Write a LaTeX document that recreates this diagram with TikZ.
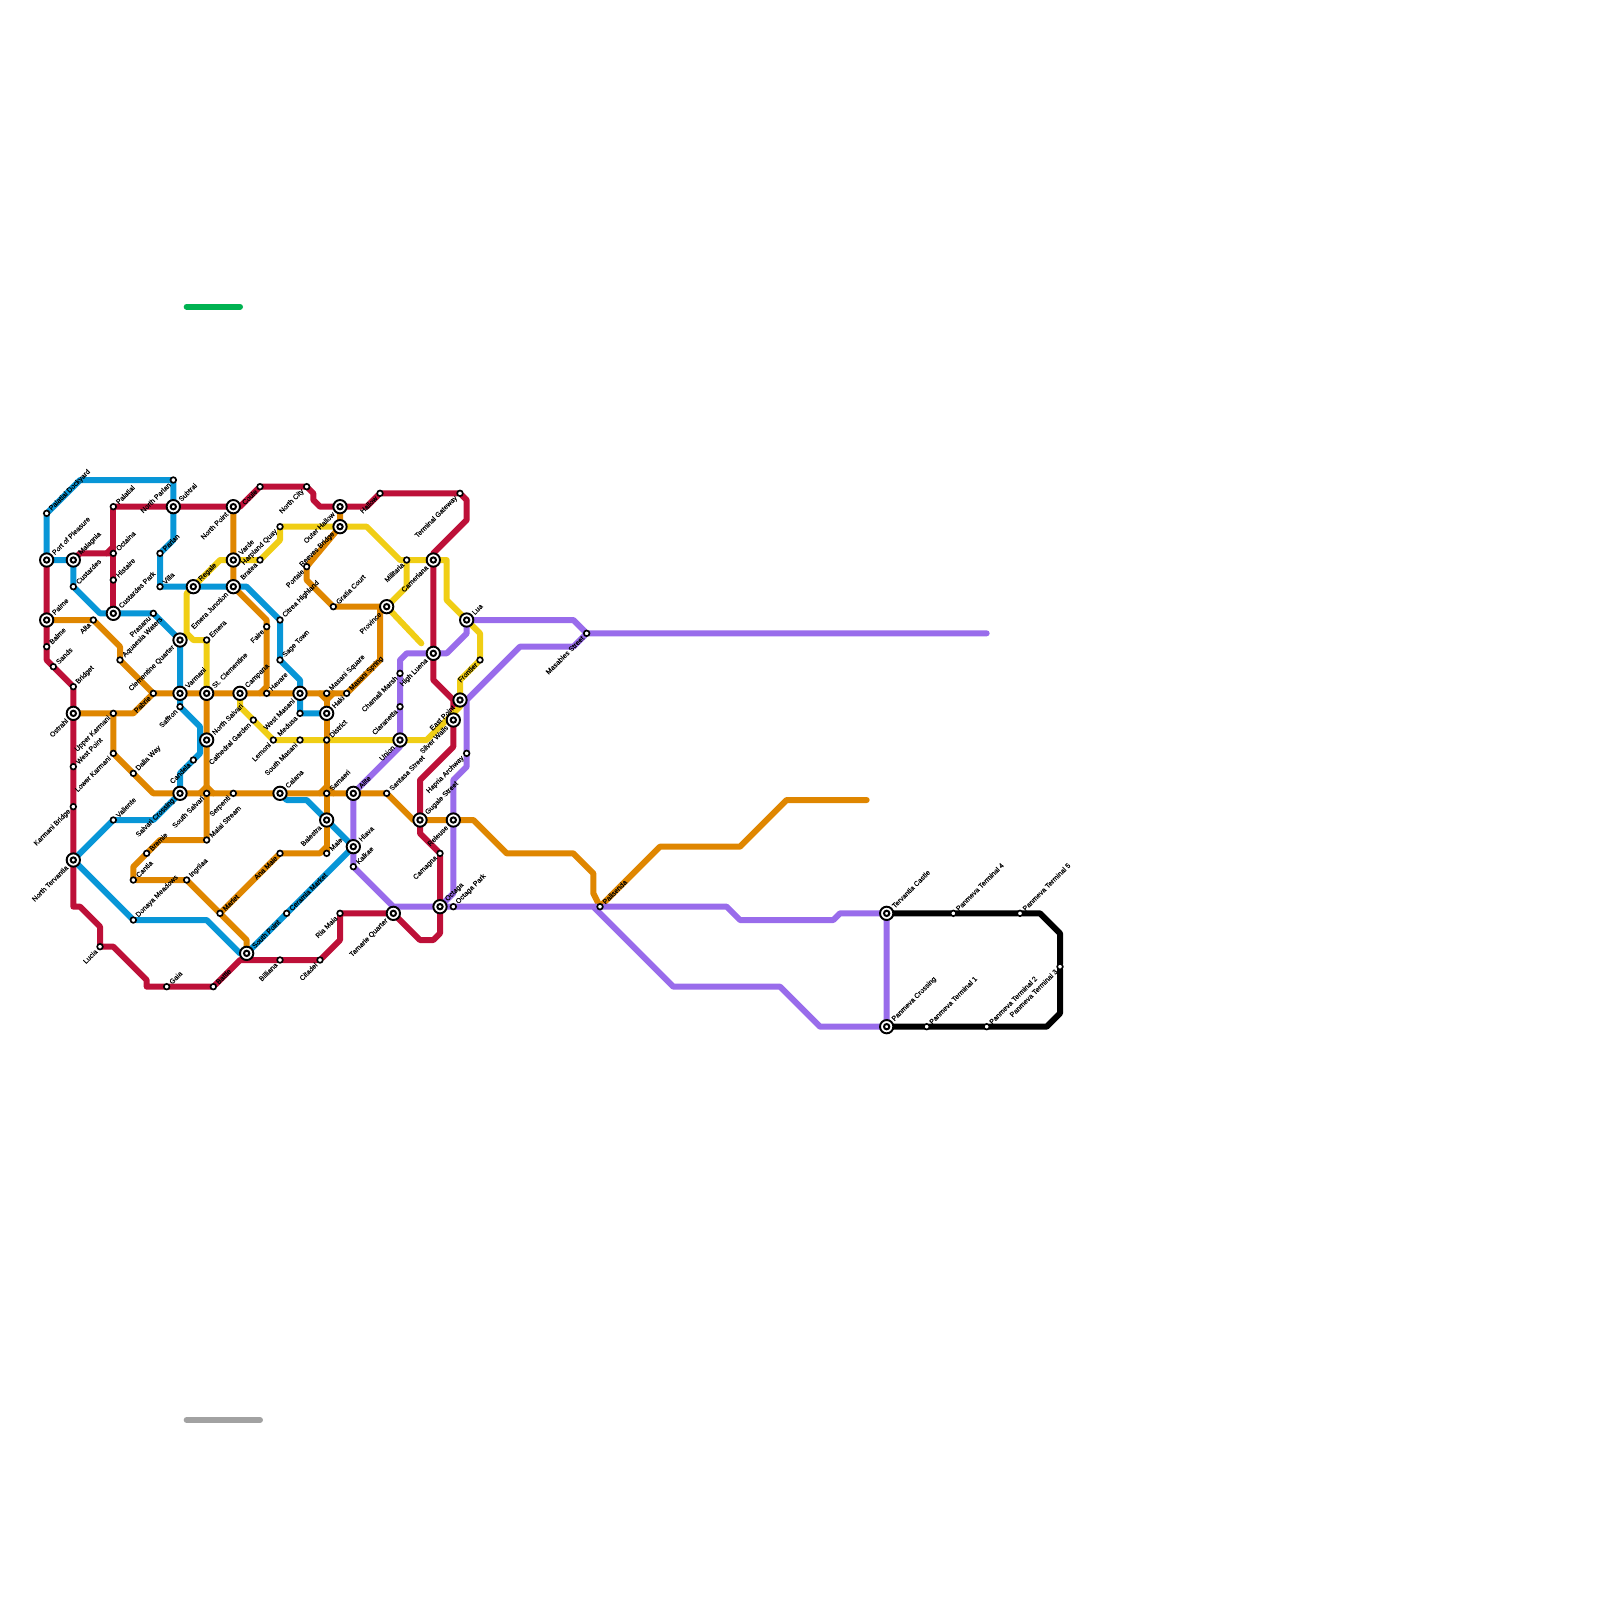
\documentclass[tikz,border=0pt]{standalone}
\usepackage{fontspec}
\setmainfont{Liberation Sans}
\newfontfamily\tagfont[FakeBold=0.25]{Liberation Sans}
\usetikzlibrary{backgrounds}
\definecolor{red1}{HTML}{BD1038}
\definecolor{blue1}{HTML}{0896D7}
\definecolor{orange1}{HTML}{DF8600}
\definecolor{yellow1}{HTML}{F0CE15}
\definecolor{purple1}{HTML}{996CEB}
\definecolor{green1}{HTML}{00B251}
\definecolor{grey1}{HTML}{A2A2A2}
\tikzset{
  route/.style={line width=1.8mm,line cap=round,line join=round},
  halt/.style={circle,draw=black,fill=white,line width=0.5mm,minimum size=1.7mm,inner sep=0pt,outer sep=0pt},
  hub/.style={halt,line width=0.58mm,minimum size=4mm,path picture={\draw[black,line width=0.6mm] (path picture bounding box.center) circle (0.8mm);}},
  tagup/.style={rotate=45,anchor=west,inner sep=0.7mm,font=\tagfont\fontsize{6}{6}\selectfont},
  tagdown/.style={rotate=45,anchor=east,inner sep=0.7mm,font=\tagfont\fontsize{6}{6}\selectfont}
}
\begin{document}
\begin{tikzpicture}[x=2mm,y=-2mm]
  \useasboundingbox (0,0) rectangle (240,240);
  % interchanges, label above right
  \foreach \n/\x/\y/\t in {port/7/84/Port of Pleasure,malagnia/11/84/Malagnia,palme/7/93/Palme,cpark/17/92/Custardes Park,subtrai/26/76/Subtrai,varde/35/84/Varde,regale/29/88/Regale,varmani/27/104/Varmani,stclem/31/104/St. Clementine,campana/36/104/Campana,nsalvari/31/111/North Salvari,spoint/37/143/South Point,haki/49/107/Haki,lua/70/93/Lua,calana/42/119/Calana,alite/53/119/Alite,hlava/53/127/Hlava,gugale/63/123/Gugale Street,octaga/66/136/Octaga,tcastle/133/137/Tervantia Castle,pcross/133/154/Panmeva Crossing}
    \node[hub,label={[tagup]45:\t}] (\n) at (\x,\y) {};
  % interchanges, label below left
  \foreach \n/\x/\y/\t in {npoint/35/76/North Point,ejunct/35/88/Emera Junction,cquarter/27/96/Clementine Quarter,ostrahl/11/107/Ostrahl,scross/27/119/Salvari Crossing,ntervantia/11/129/North Tervantia,ohallow/51/76/Outer Hallow,reeves/51/79/Reeves Bridge,province/58/91/Province,cameriana/65/84/Cameriana,hluena/65/98/High Luena,epoint/69/105/East Point,swalls/68/108/Silver Walls,wmasani/45/104/West Masani,union/60/111/Union,balestra/49/123/Balestra,releuse/68/123/Releuse,tamarie/59/137/Tamarie Quarter}
    \node[hub,label={[tagdown]225:\t}] (\n) at (\x,\y) {};
  % small stops, label above right
  \foreach \n/\x/\y/\t in {pdock/7/77/Palatial Dockyard,custardes/11/88/Custardes,palatial/17/76/Palatial,octaina/17/83/Octaina,histaire/17/87/Histaire,aquaesia/18/99/Aquaesia Waters,balme/7/97/Balme,sands/8/100/Sands,bridget/11/103/Bridget,parlan/24/83/Parlan,villa/24/88/Villa,emera/31/96/Emera,westp/11/115/West Point,dalia/20/116/Dalia Way,valiente/17/123/Valiente,bremie/22/128/Bremie,cantia/20/132/Cantia,ingrilaa/28/132/Ingrilaa,malai/31/126/Malai Stream,donaya/20/138/Donaya Meadows,marlet/33/137/Marlet,gaia/25/148/Gaia,battle/32/148/Battle,citrea/42/93/Citrea Highland,sage/42/99/Sage Town,havare/40/104/Havare,msquare/49/104/Masani Square,mspring/52/104/Masani Spring,gratia/50/91/Gratia Court,district/49/111/District,samaeri/49/119/Samaeri,maie/49/128/Maie,kalkae/53/130/Kalkae,ceramia/43/137/Ceramia Market,santasa/58/119/Santasa Street,oparkk/68/136/Octaga Park,palisenda/90/136/Palisenda,pt4/143/137/Panmeva Terminal 4,pt5/153/137/Panmeva Terminal 5,pt1/139/154/Panmeva Terminal 1,pt2/148/154/Panmeva Terminal 2}
    \node[halt,label={[tagup]45:\t}] (\n) at (\x,\y) {};
  % small stops, label below left
  \foreach \n/\x/\y/\t in {nparlan/26/72/North Parlan,coule/39/73/Coule,ncity/46/73/North City,hquay/42/79/Harpland Quay,bratea/39/84/Bratea,prasanu/23/92/Prasanu,alta/14/93/Alta,pabrie/23/104/Pabrie,saffron/27/106/Saffron,ukarmani/17/107/Upper Karmani,lkarmani/17/113/Lower Karmani,kbridge/11/121/Karmani Bridge,candela/29/114/Candela,cgarden/38/108/Cathedral Garden,lemoni/41/111/Lemoni,smasani/45/111/South Masani,medusa/45/107/Medusa,faire/40/94/Faire,portale/46/85/Portale,hallow/57/74/Hallow,tgate/69/74/Terminal Gateway,militaria/61/84/Militaria,frontier/72/99/Frontier,chamali/60/101/Chamali Marsh,claranetta/60/106/Claranetta,hapria/70/113/Hapria Archway,camagna/66/128/Camagna,ssalvari/31/119/South Salvari,serpenti/35/119/Serpenti,lucia/15/142/Lucia,anamaie/42/128/Ana Maie,riamaia/51/137/Ria Maia,citadel/48/144/Citadel,billiana/42/144/Billiana,masables/88/95/Masables Street,pt3/159/145/Panmeva Terminal 3}
    \node[halt,label={[tagdown]225:\t}] (\n) at (\x,\y) {};
  \begin{scope}[on background layer]
    % red
    \draw[route,red1] (palatial) -- (subtrai) -- (npoint) -- (36,76) -- (coule) -- (ncity) -- (47,74) -- (47,75) -- (48,76) -- (ohallow) -- (55,76) -- (hallow) -- (tgate) -- (70,75) -- (70,78) -- (65,83) -- (cameriana) -- (hluena) -- (65,102) -- (68,105) -- (swalls) -- (68,112) -- (63,117) -- (gugale) -- (63,125) -- (camagna) -- (octaga) -- (66,140) -- (65,141) -- (63,141) -- (tamarie) -- (riamaia) -- (51,141) -- (citadel) -- (billiana) -- (36,144) -- (battle) -- (gaia) -- (22,148) -- (22,147) -- (17,142) -- (lucia) -- (15,139) -- (12,136) -- (11,136) -- (ntervantia) -- (kbridge) -- (westp) -- (ostrahl) -- (bridget) -- (sands) -- (7,99) -- (balme) -- (palme) -- (port);
    \draw[route,red1] (palatial) -- (octaina) -- (histaire) -- (cpark);
    \draw[route,red1] (malagnia) -- (12,83) -- (16,83) -- (octaina); \draw[route,red1] (16,83) -- (17,82);
    % blue
    \draw[route,blue1] (port) -- (pdock) -- (12,72) -- (nparlan) -- (subtrai) -- (26,81) -- (parlan) -- (villa) -- (regale) -- (ejunct) -- (37,88) -- (citrea) -- (sage) -- (45,102) -- (wmasani) -- (medusa) -- (haki);
    \draw[route,blue1] (port) -- (malagnia) -- (custardes) -- (15,92) -- (cpark) -- (prasanu) -- (cquarter) -- (varmani) -- (saffron) -- (30,109) -- (30,113) -- (candela) -- (27,116) -- (scross) -- (23,123) -- (valiente) -- (ntervantia) -- (donaya) -- (31,138) -- (36,143) -- (spoint) -- (ceramia) -- (hlava) -- (balestra) -- (46,120) -- (43,120) -- (calana);
    % orange
    \draw[route,orange1] (palme) -- (alta) -- (18,97) -- (aquaesia) -- (pabrie) -- (varmani) -- (stclem) -- (campana) -- (havare) -- (wmasani) -- (msquare) -- (mspring) -- (57,99) -- (57,91) -- (province) -- (gratia) -- (46,87) -- (portale) -- (reeves) -- (ohallow);
    \draw[route,orange1] (ostrahl) -- (ukarmani) -- (20,107) -- (pabrie);
    \draw[route,orange1] (ukarmani) -- (lkarmani) -- (dalia) -- (23,119) -- (scross) -- (ssalvari) -- (serpenti) -- (calana) -- (samaeri) -- (alite) -- (santasa) -- (62,123) -- (gugale) -- (releuse) -- (71,123) -- (76,128) -- (86,128) -- (89,131) -- (89,134) -- (palisenda) -- (99,127) -- (111,127) -- (118,120) -- (130,120);
    \draw[route,orange1] (stclem) -- (nsalvari) -- (ssalvari) -- (malai) -- (30,126) -- (24,126) -- (bremie) -- (20,130) -- (cantia) -- (ingrilaa) -- (marlet) -- (37,141) -- (spoint);
    \draw[route,orange1] (marlet) -- (anamaie) -- (48,128) -- (49,127);
    \draw[route,orange1] (msquare) -- (haki) -- (district) -- (samaeri) -- (balestra) -- (maie);
    \draw[route,orange1] (npoint) -- (varde) -- (ejunct) -- (40,93) -- (faire) -- (40,103) -- (39,104);
    \draw[route,orange1] (48,104) -- (49,105) -- (50,104);
    \draw[route,orange1] (30,119) -- (31,118) -- (32,119); \draw[route,orange1] (48,119) -- (49,118) -- (50,119);
    % yellow
    \draw[route,yellow1] (regale) -- (33,84) -- (varde) -- (bratea) -- (42,81) -- (hquay) -- (reeves) -- (55,79) -- (60,84) -- (militaria) -- (cameriana) -- (67,84) -- (67,90) -- (lua) -- (72,95) -- (frontier) -- (69,102) -- (epoint) -- (69,106) -- (64,111) -- (union) -- (district) -- (smasani) -- (lemoni) -- (cgarden) -- (36,106) -- (campana);
    \draw[route,yellow1] (regale) -- (28,89) -- (28,95) -- (29,96) -- (emera) -- (stclem);
    \draw[route,yellow1] (militaria) -- (61,88) -- (province) -- (63.2,96.5);
    % purple
    \draw[route,purple1] (alite) -- (hlava) -- (kalkae) -- (59,136) -- (octaga) -- (oparkk) -- (palisenda) -- (109,136) -- (111,138) -- (125,138) -- (126,137) -- (tcastle) -- (pcross) -- (123,154) -- (117,148) -- (101,148) -- (89,136);
    \draw[route,purple1] (lua) -- (86,93) -- (masables) -- (148,95);
    \draw[route,purple1] (masables) -- (86,97) -- (78,97) -- (70,105) -- (hapria) -- (70,115) -- (68,117) -- (releuse) -- (68,134) -- (octaga);
    \draw[route,purple1] (lua) -- (70,95) -- (67,98) -- (hluena) -- (61,98) -- (60,99) -- (chamali) -- (claranetta) -- (union) -- (60,112) -- (alite);
    % black
    \draw[route,black] (tcastle) -- (pt4) -- (pt5) -- (156,137) -- (159,140) -- (pt3) -- (159,152) -- (157,154) -- (pt2) -- (pt1) -- (pcross);
    % the two short lines
    \draw[route,green1] (28,46) -- (36,46);
    \draw[route,grey1] (28,213) -- (39,213);
  \end{scope}
\end{tikzpicture}
\end{document}
